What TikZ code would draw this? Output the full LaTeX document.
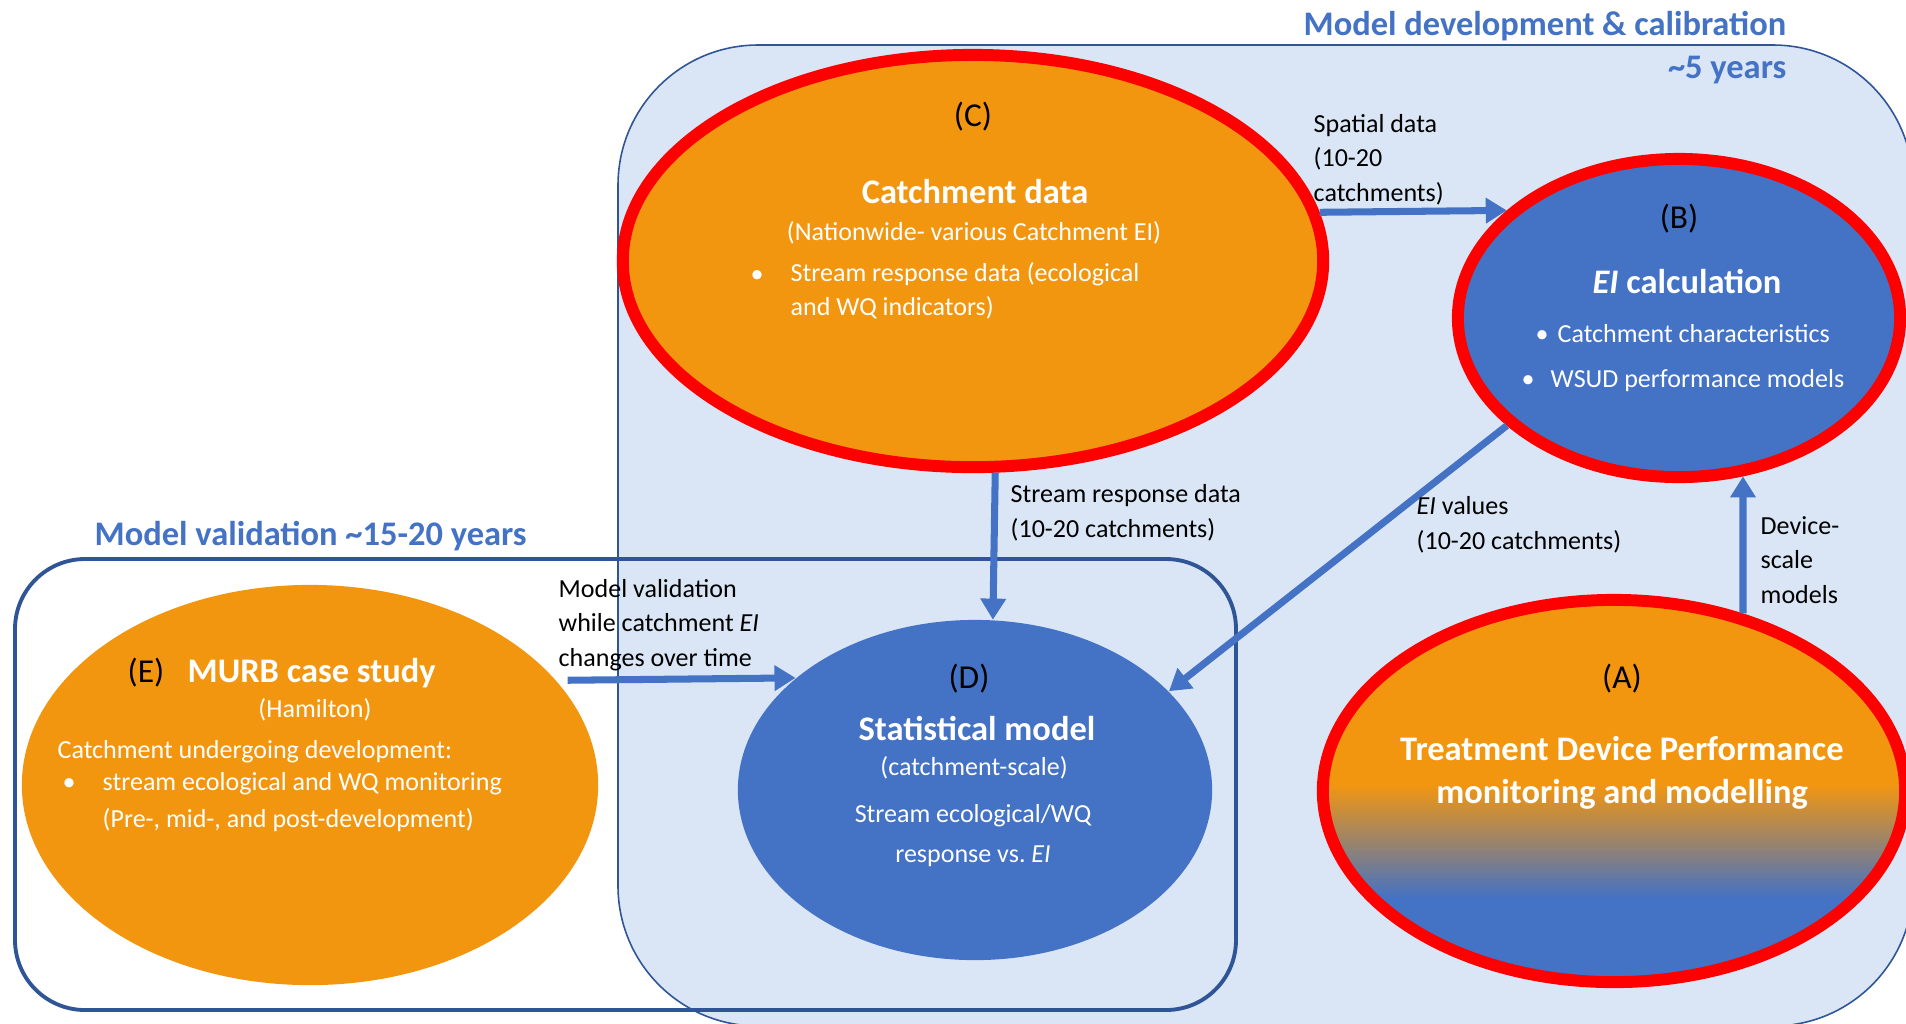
\documentclass[tikz,border=0pt]{standalone}
\usepackage{fontspec}
\setmainfont{Carlito}
\usetikzlibrary{shapes.geometric}
\usetikzlibrary{arrows.meta}

\definecolor{devblue}{HTML}{4472C4}
\definecolor{devorange}{HTML}{F3960F}
\definecolor{paleblue}{HTML}{DAE6F5}
\definecolor{darkframe}{HTML}{2F5597}
\pgfdeclareverticalshading{devshade}{100bp}{color(0bp)=(devblue); color(36bp)=(devblue);
  color(51bp)=(devorange); color(100bp)=(devorange)}

\begin{document}
\begin{tikzpicture}[x=0.01cm,y=-0.01cm,inner sep=0pt,
    redring/.style={ellipse,draw=red,line width=3.4pt},
    plain/.style={ellipse},
    flow/.style={draw=devblue,line width=2pt,-{Triangle[width=7pt,length=6pt]}},
    title/.style={font=\fontsize{9.8}{12.2}\selectfont\bfseries,text=devblue},
    hd/.style={font=\fontsize{9.8}{12.2}\selectfont\bfseries,text=white,anchor=base},
    tag/.style={font=\fontsize{9.5}{11}\selectfont,anchor=base},
    sub/.style={font=\fontsize{7.4}{9.4}\selectfont,text=white,anchor=base},
    txt/.style={font=\fontsize{7.4}{9.4}\selectfont,text=white,anchor=base west,align=left},
    lbl/.style={font=\fontsize{7.4}{9.7}\selectfont,anchor=base west,align=left}]

  % page frame
  \useasboundingbox (0,0) rectangle (1906,1023);
  \clip (0,0) rectangle (1906,1023);

  % the two periods
  \draw[darkframe,fill=paleblue,line width=0.45pt,rounded corners=1.4cm]
    (618,45) rectangle (1913,1026);
  \draw[darkframe,line width=1.1pt,rounded corners=0.7cm]
    (15,559) rectangle (1236,1010);

  % (multi-line nodes sit on the baseline of their last line)
  \node[title,anchor=base east,align=right] (devtitle) at (1787,78)
    {Model development \& calibration\\\textasciitilde5 years};
  \node[title,anchor=base west] (valtitle) at (94,545)
    {Model validation \textasciitilde15-20 years};

  % ellipses
  \node[redring,fill=devorange,minimum width=7.00cm,minimum height=4.12cm] (catch) at (973,261) {};
  \node[redring,fill=devblue,minimum width=4.42cm,minimum height=3.18cm] (eical) at (1679,318) {};
  \node[redring,shading=devshade,minimum width=5.82cm,minimum height=3.82cm] (device) at (1614,791) {};
  \node[plain,fill=devblue,minimum width=4.74cm,minimum height=3.40cm] (statmod) at (975,790) {};
  \node[plain,fill=devorange,minimum width=5.76cm,minimum height=4.00cm] (murb) at (310,785) {};

  % connectors
  \draw[flow] (catch.8) -- (eical.148.6);
  \draw[flow] (catch.-84.6) -- (statmod.84);
  \draw[flow] (eical.212) -- (statmod.27);
  \draw[flow] (device.54.8) -- (eical.-68.7);
  \draw[flow,shorten <=0.11cm] (murb.23.2) -- (statmod.148.7);

  \node[lbl] (spatlbl) at (1313,201) {Spatial data\\(10-20\\catchments)};
  \node[lbl] (resplbl) at (1010,537) {Stream response data\\(10-20 catchments)};
  \node[lbl] (eilbl) at (1416,549) {\textit{EI} values\\(10-20 catchments)};
  \node[lbl] (devlbl) at (1760,603) {Device-\\scale\\models};
  \node[lbl] (vallbl) at (558,666) {Model validation\\while catchment \textit{EI}\\changes over time};

  % (C)
  \node[tag] at (973,126) {(C)};
  \node[hd] at (975,203) {Catchment data};
  \node[sub] at (974,240) {(Nationwide- various Catchment EI)};
  \node[txt] at (750,282) {\textbullet};
  \node[txt] at (790,315) {Stream response data (ecological\\and WQ indicators)};

  % (B)
  \node[tag] at (1679,228) {(B)};
  \node[hd] at (1687,293) {\textit{EI} calculation};
  \node[txt] at (1535,342) {\textbullet};
  \node[txt] at (1557,342) {Catchment characteristics};
  \node[txt] at (1521,387) {\textbullet};
  \node[txt] at (1550,387) {WSUD performance models};

  % (A)
  \node[tag] at (1622,688) {(A)};
  \node[hd,align=center] at (1622,803) {Treatment Device Performance\\monitoring and modelling};

  % (D)
  \node[tag] at (969,688) {(D)};
  \node[hd] at (977,740) {Statistical model};
  \node[sub] at (974,775) {(catchment-scale)};
  \node[sub] at (973,822) {Stream ecological/WQ};
  \node[sub] at (973,862) {response vs.\ \textit{EI}};

  % (E)
  \node[tag] at (146,682) {(E)};
  \node[hd,anchor=base west] at (187,682) {MURB case study};
  \node[sub] at (315,717) {(Hamilton)};
  \node[txt] at (57,758) {Catchment undergoing development:};
  \node[txt] at (62,790) {\textbullet};
  \node[txt,font=\fontsize{7.4}{10.5}\selectfont] at (102,827)
    {stream ecological and WQ monitoring\\(Pre-, mid-, and post-development)};
\end{tikzpicture}
\end{document}
